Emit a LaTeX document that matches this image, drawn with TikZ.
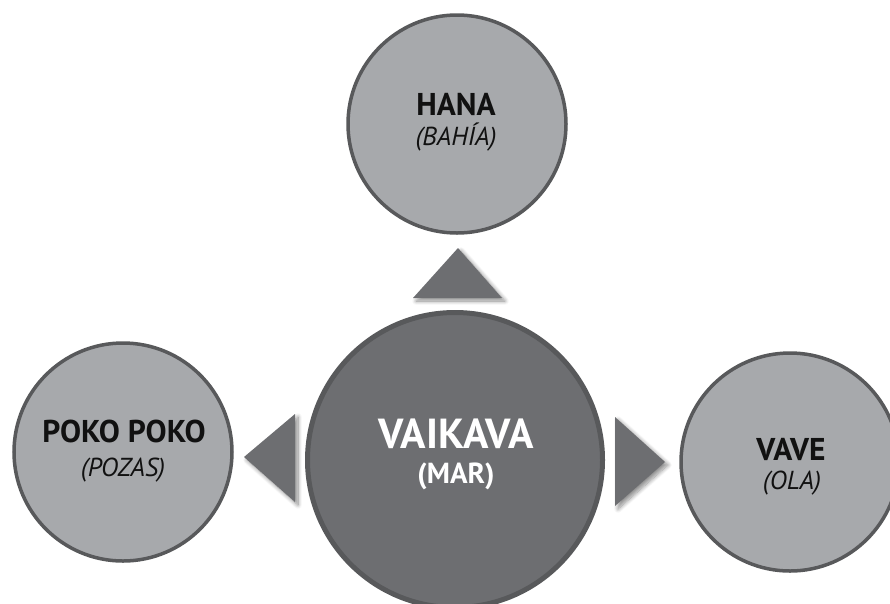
\documentclass[tikz,border=0pt]{standalone}
\usepackage{fontspec}
\setmainfont{PT Sans}
\usetikzlibrary{shadows.blur}
\definecolor{lightfill}{HTML}{A7A9AC}
\definecolor{ringgray}{HTML}{58595B}
\definecolor{darkfill}{HTML}{6D6E71}
\definecolor{inktext}{HTML}{111111}
\begin{document}
\begin{tikzpicture}[x=1pt,y=-1pt,
  outer/.style={circle, draw=ringgray, line width=3.5pt, fill=lightfill, minimum size=218pt, inner sep=0pt},
  hub/.style={circle, draw=ringgray, line width=5pt, fill=darkfill, minimum size=295pt, inner sep=0pt},
  pointer/.style={fill=darkfill, blur shadow={shadow xshift=3pt, shadow yshift=-3pt, shadow blur steps=10, shadow blur radius=4pt, shadow opacity=45}},
  namebig/.style={anchor=base, text=inktext, font=\bfseries\fontsize{31.5}{31.5}\selectfont},
  namesmall/.style={anchor=base, text=inktext, font=\itshape\fontsize{26}{26}\selectfont},
  hubbig/.style={anchor=base, text=white, font=\bfseries\fontsize{42}{42}\selectfont},
  hubsmall/.style={anchor=base, text=white, font=\bfseries\fontsize{29}{29}\selectfont}
]
\useasboundingbox (0,0) rectangle (890,603);
\clip (0,0) rectangle (890,603);

% pointers
\fill[pointer] (458,248) -- (502,298) -- (413,298) -- cycle;
\fill[pointer] (244,457) -- (295,414) -- (295,502) -- cycle;
\fill[pointer] (665,462) -- (615,417) -- (615,506) -- cycle;

% circles
\node[outer] (hana) at (457,124) {};
\node[outer] (poko) at (123,452) {};
\node[outer] (vave) at (790,462) {};
\node[hub] (vaikava) at (455,460) {};

% labels
\node[namebig] (hanaA) at (456,115) {HANA};
\node[namesmall] (hanaB) at (456,145) {(BAHÍA)};
\node[namebig] (pokoA) at (124,442) {POKO POKO};
\node[namesmall] (pokoB) at (123,476) {(POZAS)};
\node[namebig] (vaveA) at (791,460) {VAVE};
\node[namesmall] (vaveB) at (792,489) {(OLA)};
\node[hubbig] (vaikA) at (456,448) {VAIKAVA};
\node[hubsmall] (vaikB) at (456,483) {(MAR)};
\end{tikzpicture}
\end{document}
